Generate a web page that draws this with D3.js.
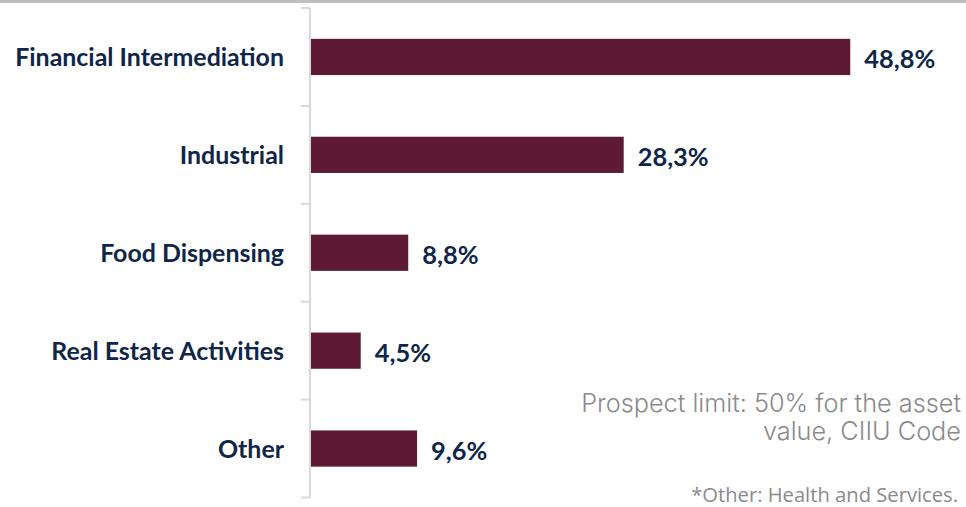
<!DOCTYPE html>
<html>
<head>
<meta charset="utf-8">
<script src="https://cdn.jsdelivr.net/npm/d3@7"></script>
<style>
  html, body { margin: 0; padding: 0; background: #fff; }
  svg { display: block; }
</style>
</head>
<body>
<svg id="chart" width="966" height="507"></svg>
<script>
const categories = ["Financial Intermediation", "Industrial", "Food Dispensing", "Real Estate Activities", "Other"];
const values = [48.8, 28.3, 8.8, 4.5, 9.6];
const valueLabels = ["48,8%", "28,3%", "8,8%", "4,5%", "9,6%"];
const noteLines = ["Prospect limit: 50% for the asset", "value, CIIU Code"];
const footnote = "*Other: Health and Services.";

const svg = d3.select("#chart");
const W = 966;

// size a font so that a reference text node reaches a target width
function fitSize(sel, baseSize, targetWidth) {
  const w = sel.node().getComputedTextLength();
  const s = baseSize * targetWidth / w;
  sel.attr("font-size", s);
  return s;
}

svg.append("rect").attr("x", 0).attr("y", 0).attr("width", W).attr("height", 3).attr("fill", "#bfbfbf");

const x0 = 311;
const x = d3.scaleLinear().domain([0, 50]).range([x0, x0 + 552.5]);
const y = d3.scaleBand().domain(categories).range([8, 497.5]).paddingInner(0.63).paddingOuter(0.315);

const axisColor = "#d9d9d9";
svg.append("line").attr("x1", 310).attr("x2", 310).attr("y1", 8).attr("y2", 497.5)
  .attr("stroke", axisColor).attr("stroke-width", 2);
const step = y.step();
const bounds = d3.range(categories.length + 1).map(i => 8 + i * step);
svg.selectAll("line.tick").data(bounds).join("line").attr("class", "tick")
  .attr("x1", 301).attr("x2", 310).attr("y1", d => d).attr("y2", d => d)
  .attr("stroke", axisColor).attr("stroke-width", 2);

svg.selectAll("rect.bar").data(values).join("rect").attr("class", "bar")
  .attr("x", x(0))
  .attr("y", (d, i) => y(categories[i]))
  .attr("width", d => x(d) - x(0))
  .attr("height", y.bandwidth())
  .attr("fill", "#5e1a35");

const labelFont = "Lato, 'Open Sans', sans-serif";
const cl = svg.selectAll("text.cat").data(categories).join("text").attr("class", "cat")
  .attr("x", 284)
  .attr("y", d => y(d) + y.bandwidth() / 2)
  .attr("dy", "0.36em")
  .attr("text-anchor", "end")
  .attr("font-family", labelFont)
  .attr("font-weight", 700)
  .attr("font-size", 20)
  .attr("fill", "#0f2648")
  .text(d => d);
const cs = fitSize(cl.filter((d, i) => i === 0), 20, 269);
cl.attr("font-size", cs);

const vl = svg.selectAll("text.val").data(values).join("text").attr("class", "val")
  .attr("x", d => x(d) + 14)
  .attr("y", (d, i) => y(categories[i]) + y.bandwidth() / 2 + 2)
  .attr("dy", "0.36em")
  .attr("font-family", labelFont)
  .attr("font-weight", 700)
  .attr("font-size", 22)
  .attr("fill", "#0f2648")
  .text((d, i) => valueLabels[i]);
const vs = fitSize(vl.filter((d, i) => i === 0), 22, 71);
vl.attr("font-size", vs);

const nl = svg.selectAll("text.note").data(noteLines).join("text").attr("class", "note")
  .attr("x", 961)
  .attr("y", (d, i) => 412 + i * 28)
  .attr("text-anchor", "end")
  .attr("font-family", "Inter, 'Noto Sans', sans-serif")
  .attr("font-weight", 300)
  .attr("font-size", 21)
  .attr("fill", "#8a8a8a")
  .text(d => d);
const ns = fitSize(nl.filter((d, i) => i === 0), 21, 380);
nl.attr("font-size", ns);

const fn = svg.append("text")
  .attr("x", 958).attr("y", 502)
  .attr("text-anchor", "end")
  .attr("font-family", "'Open Sans', sans-serif")
  .attr("font-size", 17)
  .attr("fill", "#8a8a8a")
  .text(footnote);
fitSize(fn, 17, 267);
</script>
</body>
</html>
